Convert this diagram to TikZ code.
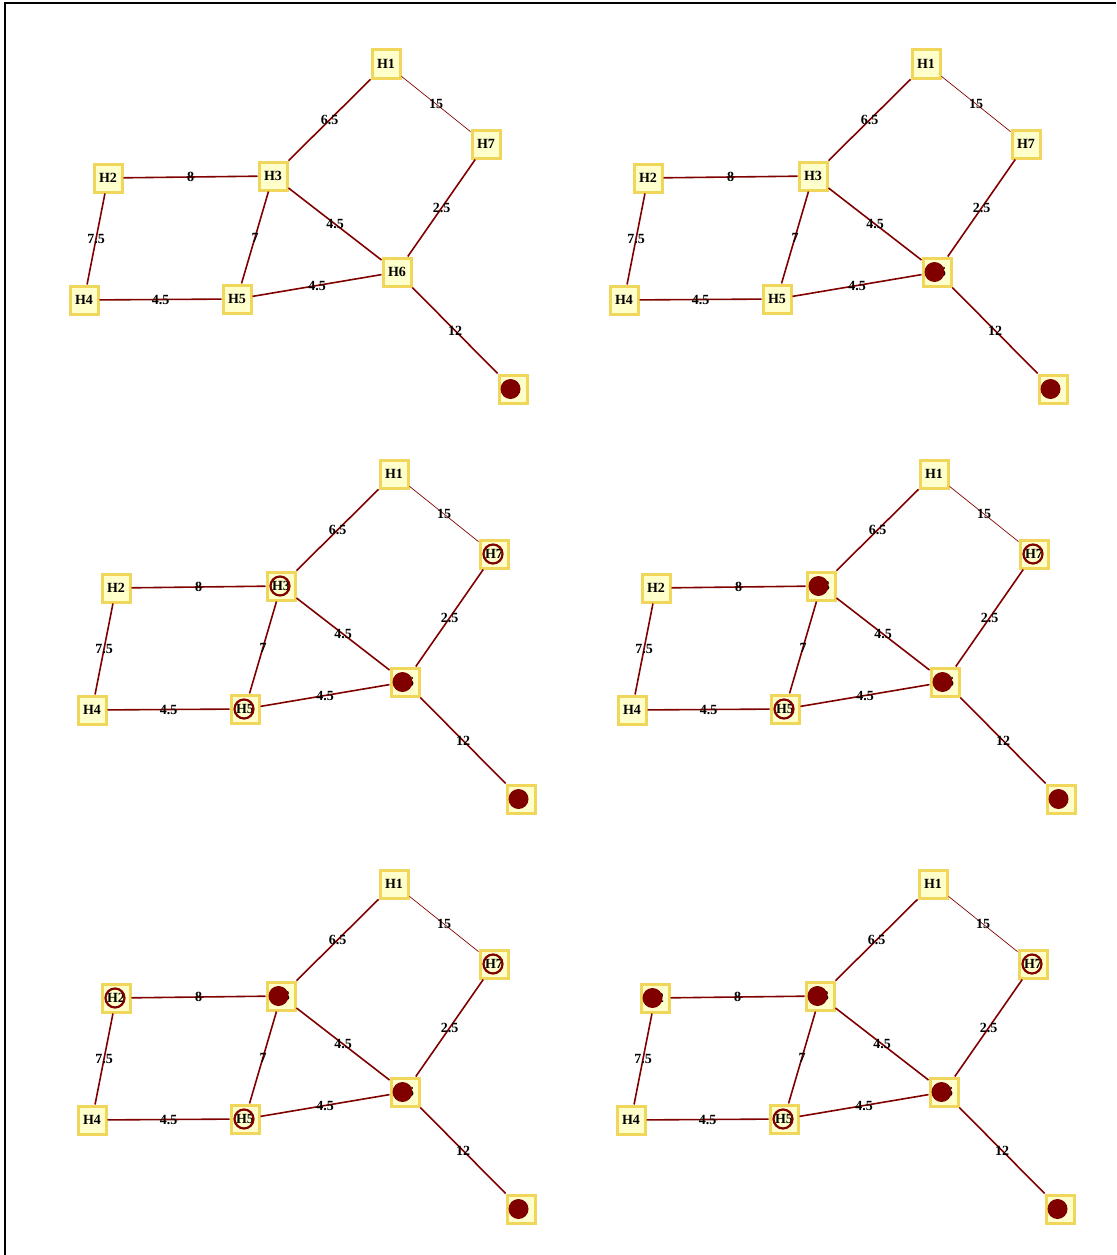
\documentclass[tikz,border=0pt]{standalone}
\usepackage{fontspec}
\setmainfont{Liberation Serif}
\usepackage{tikz}
\usetikzlibrary{positioning}

\definecolor{hostfill}{RGB}{255,255,204}
\definecolor{hostline}{RGB}{240,214,90}
\definecolor{linkred}{RGB}{128,0,0}

\begin{document}
\begin{tikzpicture}[
    x=1pt, y=-1pt,
    host/.style={rectangle, draw=hostline, fill=hostfill, line width=3pt, minimum size=28pt, inner sep=0pt, font=\fontsize{14}{14}\selectfont\bfseries},
    link/.style={draw=linkred, line width=1.6pt},
    thinlink/.style={draw=linkred, line width=0.7pt},
    wt/.style={midway, inner sep=0pt, font=\fontsize{14}{14}\selectfont\bfseries},
    visited/.style={fill=linkred},
    queued/.style={draw=linkred, line width=2.2pt}
]
\useasboundingbox (0,0) rectangle (1116,1255);
\draw[line width=2pt] (5,1255) -- (5,3) -- (1116,3);

\foreach \p/\dx/\dy in {1/0/0, 2/540/0, 3/8/410, 4/548/410, 5/8/820, 6/547/820} {
  \begin{scope}[shift={(\dx,\dy)}]
    \node[host] (p\p-H1) at (386,64) {H1};
    \node[host] (p\p-H7) at (486,144) {H7};
    \node[host] (p\p-H2) at (108,178) {H2};
    \node[host] (p\p-H3) at (273,176) {H3};
    \node[host] (p\p-H6) at (397,272) {H6};
    \node[host] (p\p-H4) at (84,300) {H4};
    \node[host] (p\p-H5) at (237,299) {H5};
    \node[host] (p\p-H8) at (513,389) {};

    \draw[link] (p\p-H1) -- node[wt] {6.5} (p\p-H3);
    \draw[thinlink] (p\p-H1) -- node[wt] {15} (p\p-H7);
    \draw[link] (p\p-H2) -- node[wt] {8} (p\p-H3);
    \draw[link] (p\p-H2) -- node[wt] {7.5} (p\p-H4);
    \draw[link] (p\p-H3) -- node[wt] {7} (p\p-H5);
    \draw[link] (p\p-H3) -- node[wt] {4.5} (p\p-H6);
    \draw[link] (p\p-H7) -- node[wt] {2.5} (p\p-H6);
    \draw[link] (p\p-H4) -- node[wt] {4.5} (p\p-H5);
    \draw[link] (p\p-H5) -- node[wt] {4.5} (p\p-H6);
    \draw[link] (p\p-H6) -- node[wt] {12} (p\p-H8);
  \end{scope}
}

% settled hosts
\foreach \n in {p1-H8, p2-H8, p2-H6, p3-H8, p3-H6, p4-H8, p4-H6, p4-H3,
                p5-H8, p5-H6, p5-H3, p6-H8, p6-H6, p6-H3, p6-H2}
  \fill[visited] ([xshift=-2.5pt]\n.center) circle (10);

% hosts in the frontier
\foreach \n in {p3-H3, p3-H7, p3-H5, p4-H7, p4-H5, p5-H2, p5-H7, p5-H5, p6-H7, p6-H5}
  \draw[queued] ([xshift=-1pt]\n.center) circle (9.5);
\end{tikzpicture}
\end{document}
